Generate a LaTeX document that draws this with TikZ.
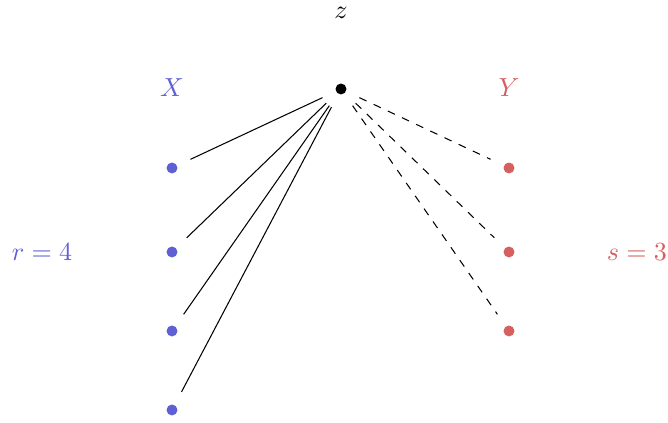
\documentclass[tikz,border=0pt]{standalone}
\usepackage{amsmath}
\usepackage{tikz}
\usepackage{xcolor}
\usetikzlibrary{positioning}
\definecolor{SetBlue}{HTML}{5F5FD6}
\definecolor{SetRed}{HTML}{D65F5F}

\tikzset{
    dot/.style={circle, fill, inner sep=0pt, minimum size=4.2pt},
    edge/.style={shorten >=5.5pt, shorten <=5.5pt},
}

\begin{document}
\begin{tikzpicture}[x=0.383pt, y=0.383pt]

    % frame of the picture, in pixels of the reference
    \useasboundingbox (0,0) rectangle (668,423);

    % === centre vertex z ===
    \node[dot, black] (z) at (341,334) {};
    \node[inner sep=0pt] (zlabel) at (341,410) {$z$};

    % === side X (r = 4) ===
    \node[text=SetBlue] (Xlabel) at (172,335) {$X$};
    \node[dot, SetBlue] (x1) at (172,255) {};
    \node[dot, SetBlue] (x2) at (172,171) {};
    \node[dot, SetBlue] (x3) at (172,92) {};
    \node[dot, SetBlue] (x4) at (172,13) {};
    \node[text=SetBlue] (rlabel) at (42,171) {$r=4$};

    % === side Y (s = 3) ===
    \node[text=SetRed] (Ylabel) at (509,335) {$Y$};
    \node[dot, SetRed] (y1) at (509,255) {};
    \node[dot, SetRed] (y2) at (509,171) {};
    \node[dot, SetRed] (y3) at (509,92) {};
    \node[text=SetRed] (slabel) at (637,171) {$s=3$};

    % === edges ===
    \draw[edge] (z) -- (x1);
    \draw[edge] (z) -- (x2);
    \draw[edge] (z) -- (x3);
    \draw[edge] (z) -- (x4);
    \draw[edge, dashed] (z) -- (y1);
    \draw[edge, dashed] (z) -- (y2);
    \draw[edge, dashed] (z) -- (y3);

\end{tikzpicture}
\end{document}
